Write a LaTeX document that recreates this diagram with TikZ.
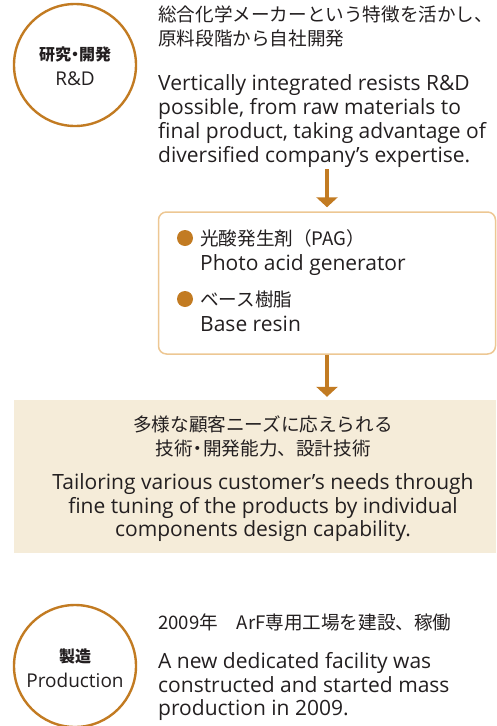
\documentclass[tikz,border=0pt]{standalone}
\usepackage{fontspec}
\setmainfont{Open Sans}
\newfontfamily\jp{Noto Sans CJK JP}
\usetikzlibrary{arrows.meta}
\definecolor{rdorange}{HTML}{C27B22}
\definecolor{boxline}{HTML}{EDC793}
\definecolor{boxfill}{HTML}{F5ECD9}
\definecolor{ink}{HTML}{231F20}
\tikzset{
  ring/.style={circle,draw=rdorange,line width=2.4pt,minimum size=122pt,inner sep=0pt},
  ringjp/.style={inner sep=0pt,anchor=base,text=ink,font=\jp\bfseries\fontsize{16}{18}\selectfont},
  ringen/.style={inner sep=0pt,anchor=base,text=ink,font=\fontsize{19}{21}\selectfont},
  jpline/.style={inner sep=0pt,anchor=base west,text=ink,font=\jp\fontsize{18.6}{20}\selectfont},
  enline/.style={inner sep=0pt,anchor=base west,text=ink,font=\fontsize{21}{24}\selectfont},
  bullet/.style={circle,fill=rdorange,minimum size=16pt,inner sep=0pt},
  flowarrow/.style={draw=rdorange,line width=4pt,-{Triangle[width=21pt,length=10pt]}},
}
\begin{document}
\begin{tikzpicture}[x=1pt,y=-1pt]
\useasboundingbox (0,0) rectangle (496,726);
\node[ring] (rd) at (75,65) {};
\node[ringjp] (rdjp) at (75,60) {研究\kern-4pt・\kern-4pt開発};
\node[ringen] (rden) at (75,85) {R\&D};
\node[jpline] (rdtxt1) at (158,21) {総合化学メーカーという特徴を活かし、};
\node[jpline] (rdtxt2) at (158,45) {原料段階から自社開発};
\node[enline] (rdtxt3) at (158,90) {Vertically integrated resists R\&D};
\node[enline] (rdtxt4) at (158,114) {possible, from raw materials to};
\node[enline] (rdtxt5) at (158,138) {final product, taking advantage of};
\node[enline] (rdtxt6) at (158,162) {diversified company’s expertise.};
\coordinate (arrtop) at (327,169);
\node[draw=boxline,line width=1.5pt,rounded corners=8pt,minimum width=337pt,minimum height=142pt,inner sep=0pt] (parts) at (327,283) {};
\draw[flowarrow,shorten >=4pt] (arrtop) -- (parts.north);
\node[bullet] (pagdot) at (185,238) {};
\node[jpline] (pagjp) at (200,245) {光酸発生剤（PAG）};
\node[enline] (pagen) at (200,270) {Photo acid generator};
\node[bullet] (resindot) at (185,299) {};
\node[jpline] (resinjp) at (200,306) {ベース樹脂};
\node[enline] (resinen) at (200,331) {Base resin};
\node[fill=boxfill,minimum width=482pt,minimum height=153pt,inner sep=0pt] (needs) at (255,476.5) {};
\draw[flowarrow,shorten >=3pt] (parts.south) -- (parts.south |- needs.north);
\node[jpline,anchor=base] (needjp1) at (263,431) {多様な顧客ニーズに応えられる};
\node[jpline,anchor=base] (needjp2) at (263,455) {技術\kern-4pt・\kern-4pt開発能力、設計技術};
\node[enline,anchor=base] (needen1) at (263,489) {Tailoring various customer’s needs through};
\node[enline,anchor=base] (needen2) at (263,513) {fine tuning of the products by individual};
\node[enline,anchor=base] (needen3) at (263,536) {components design capability.};
\node[ring] (prod) at (75,666) {};
\node[ringjp] (prodjp) at (75,662) {製造};
\node[ringen] (proden) at (75,687) {Production};
\node[jpline] (prodtxt1) at (158,629) {2009年　ArF専用工場を建設、稼働};
\node[enline] (prodtxt2) at (158,668) {A new dedicated facility was};
\node[enline] (prodtxt3) at (158,692) {constructed and started mass};
\node[enline] (prodtxt4) at (158,715) {production in 2009.};
\end{tikzpicture}
\end{document}
